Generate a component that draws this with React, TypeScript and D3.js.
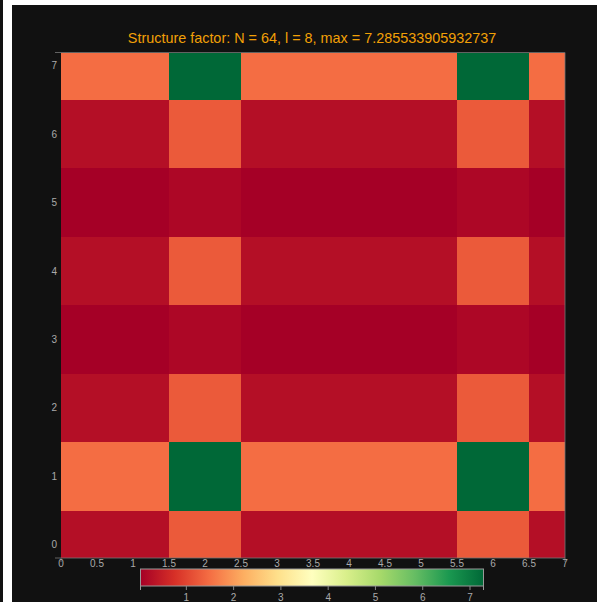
import React from "react";
import * as d3 from "d3";

// Grid coordinates of the structure-factor samples
const xValues = [0, 1, 2, 3, 4, 5, 6, 7];
const yValues = [0, 1, 2, 3, 4, 5, 6, 7];

// S(kx, ky) per row (ky = 0..7), columns kx = 0..7
const row0 = [0.25, 0.25, 1.26, 0.25, 0.25, 0.25, 1.26, 0.25];
const row1 = [1.48, 1.48, 7.285533905932737, 1.48, 1.48, 1.48, 7.285533905932737, 1.48];
const row2 = [0.25, 0.25, 1.26, 0.25, 0.25, 0.25, 1.26, 0.25];
const row3 = [0.03, 0.03, 0.14, 0.03, 0.03, 0.03, 0.14, 0.03];
const row4 = [0.25, 0.25, 1.26, 0.25, 0.25, 0.25, 1.26, 0.25];
const row5 = [0.03, 0.03, 0.14, 0.03, 0.03, 0.03, 0.14, 0.03];
const row6 = [0.25, 0.25, 1.26, 0.25, 0.25, 0.25, 1.26, 0.25];
const row7 = [1.48, 1.48, 7.285533905932737, 1.48, 1.48, 1.48, 7.285533905932737, 1.48];
const zRows = [row0, row1, row2, row3, row4, row5, row6, row7];

const xTicks = [0, 0.5, 1, 1.5, 2, 2.5, 3, 3.5, 4, 4.5, 5, 5.5, 6, 6.5, 7];
const yTicks = [0, 1, 2, 3, 4, 5, 6, 7];
const colorbarTicks = [1, 2, 3, 4, 5, 6, 7];

const rdYlGn = [
  "rgb(165,0,38)", "rgb(215,48,39)", "rgb(244,109,67)", "rgb(253,174,97)",
  "rgb(254,224,139)", "rgb(255,255,191)", "rgb(217,239,139)", "rgb(166,217,106)",
  "rgb(102,189,99)", "rgb(26,152,80)", "rgb(0,104,55)",
];

const W = 597;
const H = 602;
const BG = "#111111";
const FONT = "'Liberation Sans', Arial, sans-serif";

export default function App() {
  const allZ = zRows.flat();
  const zMin = d3.min(allZ) as number;
  const zMax = d3.max(allZ) as number;
  const zMaxLabel = "7.285533905932737";

  const x = d3.scaleLinear().domain([0, 7]).range([61, 565]);
  const y = d3.scaleLinear().domain([-0.19, 7.19]).range([558, 52.5]);

  const tStops = rdYlGn.map((_, i) => i / (rdYlGn.length - 1));
  const color = d3
    .scaleLinear<string>()
    .domain(tStops.map((t) => zMin + t * (zMax - zMin)))
    .range(rdYlGn)
    .interpolate(d3.interpolateRgb)
    .clamp(true);

  const [xLo, xHi] = x.domain();
  const [yLo, yHi] = y.domain();

  const cells: React.ReactNode[] = [];
  zRows.forEach((row, j) => {
    row.forEach((v, i) => {
      const x0 = Math.max(xLo, xValues[i] - 0.5);
      const x1 = Math.min(xHi, xValues[i] + 0.5);
      const y0 = Math.max(yLo, yValues[j] - 0.5);
      const y1 = Math.min(yHi, yValues[j] + 0.5);
      cells.push(
        <rect
          key={`${i}-${j}`}
          x={x(x0)}
          y={y(y1)}
          width={x(x1) - x(x0)}
          height={y(y0) - y(y1)}
          fill={color(v)}
          shapeRendering="crispEdges"
        />
      );
    });
  });

  // horizontal colorbar
  const cb = d3.scaleLinear().domain([zMin, zMax]).range([140.5, 483.5]);
  const cbTop = 569;
  const cbH = 17;

  return (
    <div style={{ position: "fixed", left: 0, top: 0, width: W, height: H, background: "#fff" }}>
      <svg width={W} height={H} style={{ display: "block" }}>
        <defs>
          <linearGradient id="cbgrad" x1="0" x2="1" y1="0" y2="0">
            {rdYlGn.map((c, i) => (
              <stop key={i} offset={`${tStops[i] * 100}%`} stopColor={c} />
            ))}
          </linearGradient>
        </defs>
        <rect x={0} y={0} width={W} height={H} fill="#fff" />
        <rect x={0} y={0} width={3} height={H} fill={BG} />
        <rect x={12} y={5} width={W - 12} height={H - 5} fill={BG} />

        <text
          x={312}
          y={43}
          textAnchor="middle"
          fill="#f2a007"
          fontFamily={FONT}
          fontSize={14.4}
        >
          {`Structure factor: N = 64, l = 8, max = ${zMaxLabel}`}
        </text>

        {cells}

        {/* axis frame */}
        <g stroke="#777" strokeWidth={1} fill="none" opacity={0.8}>
          <line x1={55} x2={565} y1={52.5} y2={52.5} />
          <line x1={55} x2={565} y1={558} y2={558} />
          <line x1={565} x2={565} y1={52.5} y2={558} />
          <line x1={61} x2={61} y1={558} y2={562} />
          <line x1={565} x2={565} y1={558} y2={562} />
        </g>

        {yTicks.map((t) => (
          <text
            key={`y${t}`}
            x={57}
            y={y(t)}
            dy="0.35em"
            textAnchor="end"
            fill="#aaaaaa"
            fontFamily={FONT}
            fontSize={10}
          >
            {t}
          </text>
        ))}
        {xTicks.map((t) => (
          <text
            key={`x${t}`}
            x={x(t)}
            y={567}
            textAnchor="middle"
            fill="#aaaaaa"
            fontFamily={FONT}
            fontSize={10}
          >
            {t}
          </text>
        ))}

        {/* colorbar */}
        <rect
          x={cb.range()[0]}
          y={cbTop}
          width={cb.range()[1] - cb.range()[0]}
          height={cbH}
          fill="url(#cbgrad)"
          stroke="#999"
          strokeWidth={1}
        />
        <line x1={cb.range()[0]} x2={cb.range()[0]} y1={cbTop + cbH} y2={cbTop + cbH + 4} stroke="#999" />
        <line x1={cb.range()[1]} x2={cb.range()[1]} y1={cbTop + cbH} y2={cbTop + cbH + 4} stroke="#999" />
        {colorbarTicks.map((t) => (
          <g key={`cb${t}`}>
            <line x1={cb(t)} x2={cb(t)} y1={cbTop + cbH} y2={cbTop + cbH + 4} stroke="#888" />
            <text
              x={cb(t)}
              y={600.5}
              textAnchor="middle"
              fill="#aaaaaa"
              fontFamily={FONT}
              fontSize={10}
            >
              {t}
            </text>
          </g>
        ))}
      </svg>
    </div>
  );
}
